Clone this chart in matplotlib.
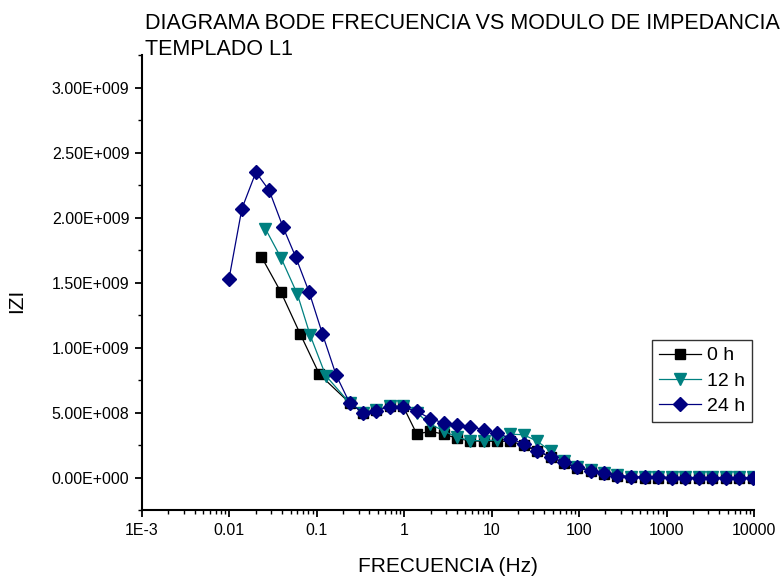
import matplotlib
matplotlib.use("Agg")
import matplotlib.pyplot as plt
from matplotlib.ticker import FixedLocator, MultipleLocator, FuncFormatter, LogLocator, NullFormatter
import numpy as np

plt.rcParams['font.family'] = ['Liberation Sans Narrow', 'Liberation Sans', 'DejaVu Sans']

# Bode magnitude data, |Z| in units of 1e9 ohm
freq_high = [0.237, 0.338, 0.479, 0.681, 0.969, 1.39, 1.99, 2.83, 4.03, 5.72,
             8.13, 11.6, 16.4, 23.3, 33.2, 47.2, 67.0, 95.3, 136, 192,
             274, 390, 560, 800, 1140, 1630, 2330, 3330, 4750, 6780, 9800]

freq_0h = [0.0232, 0.039, 0.0646, 0.107] + freq_high
z_0h = [1.70, 1.425, 1.105, 0.795,
        0.575, 0.50, 0.52, 0.548, 0.55, 0.336, 0.356, 0.335, 0.302, 0.283,
        0.28, 0.28, 0.28, 0.25, 0.203, 0.158, 0.115, 0.076, 0.051, 0.031,
        0.014, 0.004, 0.001, 0.0, 0.0, 0.0, -0.001, -0.001, -0.001, -0.001, -0.001]

freq_12h = [0.0258, 0.039, 0.060, 0.084, 0.1265] + freq_high
z_12h = [1.915, 1.69, 1.41, 1.095, 0.785,
         0.575, 0.50, 0.52, 0.548, 0.55, 0.50, 0.41, 0.36, 0.31, 0.285,
         0.285, 0.29, 0.335, 0.33, 0.28, 0.205, 0.125, 0.084, 0.058, 0.038,
         0.02, 0.009, 0.005, 0.004, 0.003, 0.003, 0.002, 0.002, 0.002, 0.002, 0.002]

freq_24h = [0.0099, 0.0139, 0.0201, 0.0285, 0.0409, 0.0571, 0.0819, 0.116, 0.166] + freq_high
z_24h = [1.53, 2.07, 2.35, 2.21, 1.93, 1.70, 1.425, 1.105, 0.79,
         0.575, 0.50, 0.515, 0.546, 0.546, 0.51, 0.455, 0.42, 0.405, 0.392,
         0.37, 0.345, 0.30, 0.26, 0.208, 0.162, 0.118, 0.079, 0.054, 0.034,
         0.016, 0.006, 0.003, 0.002, 0.001, 0.001, 0.0, 0.0, 0.0, 0.0, 0.0]

x_ticks = [1e-3, 1e-2, 1e-1, 1, 10, 100, 1000, 10000]
x_ticklabels = ['1E-3', '0.01', '0.1', '1', '10', '100', '1000', '10000']


def sci_label(v, pos):
    if v == 0:
        return '0.00E+000'
    e = int(np.floor(np.log10(abs(v))))
    m = v / 10 ** e
    sign = '+' if e >= 0 else '-'
    return '%.2fE%s%03d' % (m, sign, abs(e))


fig = plt.figure(figsize=(7.84, 5.82), dpi=100)
ax = fig.add_axes([0.1811, 0.1234, 0.7806, 0.7818])

ax.plot(freq_0h, np.array(z_0h) * 1e9, color='black', lw=0.9, marker='s',
        ms=6.5, mec='black', mfc='black', label='0 h')
ax.plot(freq_12h, np.array(z_12h) * 1e9, color='#008080', lw=0.9, marker='v',
        ms=9, mec='#008080', mfc='#008080', label='12 h')
ax.plot(freq_24h, np.array(z_24h) * 1e9, color='#000080', lw=0.9, marker='D',
        ms=7, mec='#000080', mfc='#000080', label='24 h')

ax.set_xscale('log')
ax.set_xlim(1e-3, 1e4)
ax.set_ylim(-0.25e9, 3.25e9)

ax.xaxis.set_major_locator(FixedLocator(x_ticks))
ax.xaxis.set_major_formatter(FuncFormatter(lambda v, p: x_ticklabels[x_ticks.index(v)] if v in x_ticks else ''))
ax.xaxis.set_minor_locator(LogLocator(base=10, subs=np.arange(2, 10), numticks=20))
ax.xaxis.set_minor_formatter(NullFormatter())
ax.yaxis.set_major_locator(MultipleLocator(0.5e9))
ax.yaxis.set_minor_locator(MultipleLocator(0.25e9))
ax.yaxis.set_major_formatter(FuncFormatter(sci_label))

for s in ['top', 'right']:
    ax.spines[s].set_visible(False)
for s in ['left', 'bottom']:
    ax.spines[s].set_linewidth(1.5)

ax.tick_params(which='major', direction='out', length=5, width=1.3, labelsize=11.5, pad=4)
ax.tick_params(which='minor', direction='out', length=3, width=1.0)

ax.set_xlabel('FRECUENCIA (Hz)', fontsize=15, labelpad=14)
ax.set_ylabel('IZI', fontsize=15)
ax.yaxis.set_label_coords(-0.19, 0.46)

fig.text(0.185, 0.978, 'DIAGRAMA BODE FRECUENCIA VS MODULO DE IMPEDANCIA\nTEMPLADO L1',
         ha='left', va='top', fontsize=15.5, linespacing=1.3)

leg = ax.legend(loc='upper right', bbox_to_anchor=(0.997, 0.374), borderaxespad=0,
                fontsize=14, fancybox=False, frameon=True, edgecolor='black',
                handlelength=2.2, handletextpad=0.3, borderpad=0.35, labelspacing=0.4)
leg.get_frame().set_linewidth(1.0)

fig.savefig('out.png', dpi=100)
